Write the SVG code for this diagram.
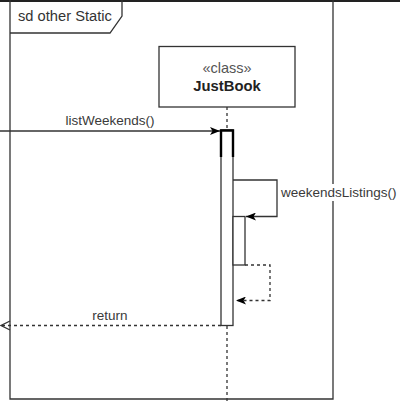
<svg xmlns="http://www.w3.org/2000/svg" width="400" height="403" viewBox="0 0 400 403">
<style>
.ln{fill:none;stroke:#333333;stroke-width:1.3}
.dash{fill:none;stroke:#333333;stroke-width:1.3;stroke-dasharray:3 3}
.lbl{font-family:"Liberation Sans",Arial,sans-serif;font-size:13.5px;fill:#3a3a3a}
</style>
<defs>
<marker id="fill" viewBox="0 0 10 8" refX="10" refY="4" markerWidth="10" markerHeight="8" markerUnits="userSpaceOnUse" orient="auto">
<path d="M0,0 L10,4 L0,8 L2.5,4 Z" fill="#000"/>
</marker>
</defs>
<rect x="0" y="0" width="400" height="403" fill="#ffffff"/>
<g id="frame">
<line x1="0" y1="1" x2="400" y2="1" stroke="#222" stroke-width="2"/>
<path class="ln" d="M10,0 V399 H333 V0"/>
<path class="ln" d="M10,33 H110 L122,16 V0"/>
<text x="18" y="21" font-family="Liberation Sans,Arial,sans-serif" font-size="14.7" fill="#333">sd other Static</text>
</g>
<g id="justbook">
<rect x="159" y="46.5" width="136" height="60.5" fill="#fff" stroke="#333" stroke-width="1.3"/>
<text x="227" y="73" text-anchor="middle" font-family="Liberation Sans,Arial,sans-serif" font-size="14.5" fill="#555">«class»</text>
<text x="227" y="91" text-anchor="middle" font-family="Liberation Sans,Arial,sans-serif" font-size="14.8" font-weight="bold" fill="#222">JustBook</text>
</g>
<g id="lifeline">
<line class="dash" x1="227" y1="107" x2="227" y2="130"/>
<line class="dash" x1="227" y1="326" x2="227" y2="403"/>
</g>
<g id="activation">
<rect x="221" y="130" width="12" height="195.5" fill="#fff" stroke="#333" stroke-width="1.3"/>
<path d="M221,157 V130.5 H233 V157" fill="none" stroke="#000" stroke-width="2.4"/>
<rect x="233" y="216.5" width="12" height="48.5" fill="#fff" stroke="#333" stroke-width="1.3"/>
</g>
<g id="connectors">
<line class="ln" x1="0" y1="131" x2="220" y2="131" marker-end="url(#fill)"/>
<text class="lbl" x="110" y="125" text-anchor="middle">listWeekends()</text>
<path class="ln" d="M233,180 H277 V216.5 H246" marker-end="url(#fill)"/>
<rect x="280" y="184" width="120" height="17" fill="#fff"/>
<text class="lbl" x="281" y="197">weekendsListings()</text>
<path class="dash" d="M245,265 H270 V300.5 H236" marker-end="url(#fill)"/>
<line class="dash" x1="221" y1="325.5" x2="2" y2="325.5"/>
<path class="ln" d="M10,321 L1,325.5 L10,330"/>
<text class="lbl" x="110" y="320" text-anchor="middle">return</text>
</g>
</svg>
